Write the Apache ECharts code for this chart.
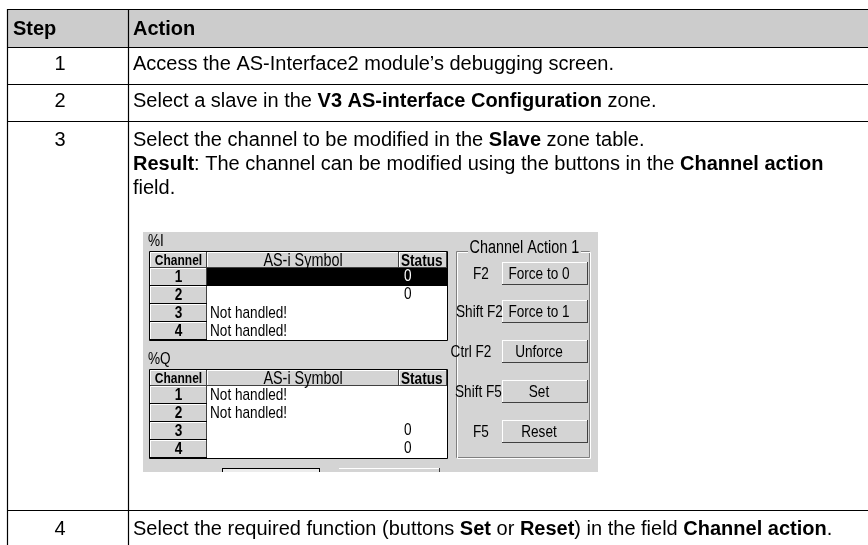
<!DOCTYPE html>
<html><head><meta charset="utf-8">
<script src="https://cdn.jsdelivr.net/npm/echarts@6/dist/echarts.min.js"></script>
<style>html,body{margin:0;padding:0;background:#fff}#c{width:868px;height:545px}</style>
</head><body><div id="c"></div>
<script>
// ---- data ----
const headers = ['Step', 'Action'];
const steps = ['1', '2', '3', '4'];
const actionLines = [
  ['Access the AS-Interface2 module\u2019s debugging screen.'],
  ['Select a slave in the {b|V3 AS-interface Configuration} zone.'],
  ['Select the channel to be modified in the {b|Slave} zone table.',
   '{b|Result}: The channel can be modified using the buttons in the {b|Channel action}',
   'field.'],
  ['Select the required function (buttons {b|Set} or {b|Reset}) in the field {b|Channel action}.']
];
const zoneLabels = ['%I', '%Q'];
const columnTitles = ['Channel', 'AS-i Symbol', 'Status'];
const inputChannels = ['1', '2', '3', '4'];
const inputSymbols = ['', '', 'Not handled!', 'Not handled!'];
const inputStatus = ['0', '0', '', ''];
const outputChannels = ['1', '2', '3', '4'];
const outputSymbols = ['Not handled!', 'Not handled!', '', ''];
const outputStatus = ['', '', '0', '0'];
const panelTitle = 'Channel Action 1';
const actionKeys = ['F2', 'Shift F2', 'Ctrl F2', 'Shift F5', 'F5'];
const actionButtons = ['Force to 0', 'Force to 1', 'Unforce', 'Set', 'Reset'];

// ---- drawing ----
const MAIN = '"Liberation Sans", Arial, sans-serif';
const GRAY = '#d4d4d4';
const els = [];
function R(x, y, w, h, fill, stroke, lw) {
  els.push({type: 'rect', shape: {x, y, width: w, height: h},
    style: {fill: fill || 'none', stroke: stroke || null, lineWidth: lw || 1}, silent: true});
}
function L(x1, y1, x2, y2, c, lw) {
  els.push({type: 'line', shape: {x1, y1, x2, y2}, style: {stroke: c || '#000', lineWidth: lw || 1}, silent: true});
}
function T(x, y, text, opt, sx) {
  els.push({type: 'text', x, y, scaleX: sx || 1, silent: true,
    style: Object.assign({text, fill: '#000', fontSize: 20, fontFamily: MAIN, align: 'left', verticalAlign: 'middle'}, opt || {})});
}
// narrow text: Liberation Sans compressed horizontally (Arial Narrow look)
function N(x, y, text, size, bold, extra) {
  T(x, y, text, Object.assign({fontSize: size, fontWeight: bold ? 'bold' : 'normal'}, extra || {}), 0.8);
}
function raised(x, y, w, h) {
  R(x, y, w, h, GRAY);
  L(x, y + 0.5, x + w, y + 0.5, '#fff');
  L(x + 0.5, y, x + 0.5, y + h, '#fff');
  L(x, y + h - 0.5, x + w, y + h - 0.5, '#404040');
  L(x + w - 0.5, y, x + w - 0.5, y + h, '#404040');
}

// main table
R(7, 9, 861, 38, '#cccccc');
[9, 47, 84, 121, 510].forEach(y => L(7, y + 0.5, 868, y + 0.5, '#000', 1.2));
L(7.5, 9, 7.5, 545, '#000', 1.2);
L(128.5, 9, 128.5, 545, '#000', 1.2);
T(13, 29, headers[0], {fontWeight: 'bold'});
T(133, 29, headers[1], {fontWeight: 'bold'});
const rich = {b: {fontWeight: 'bold', fontSize: 20, fontFamily: MAIN, fill: '#000'}};
const rowY = [[64], [101], [140, 164, 188], [529]];
steps.forEach((s, i) => {
  T(60, rowY[i][0], s, {align: 'center'});
  actionLines[i].forEach((ln, j) => T(133, rowY[i][j], ln, {rich}));
});

// embedded screenshot
R(143, 232, 455, 240, GRAY);
function table(top, label, chans, syms, stats, hl) {
  const x0 = 150, x1 = 207, x2 = 399, x3 = 447, hh = 16, rh = 18;
  N(148, top - 11, label, 17);
  R(x1, top + hh, x3 - x1, rh * 4, '#fff');
  raised(x0, top, x1 - x0, hh);
  raised(x1, top, x2 - x1, hh);
  raised(x2, top, x3 - x2, hh);
  N((x0 + x1) / 2, top + hh / 2 + 1, columnTitles[0], 15, true, {align: 'center'});
  N((x1 + x2) / 2, top + hh / 2 + 1, columnTitles[1], 18, false, {align: 'center'});
  N(x2 + 2, top + hh / 2 + 1, columnTitles[2], 17, true);
  chans.forEach((c, i) => {
    const y = top + hh + i * rh;
    raised(x0, y, x1 - x0, rh);
    L(x0, y + rh - 0.5, x1, y + rh - 0.5, '#000');
    if (i === hl) R(x1, y, x3 - x1, rh, '#000');
    N((x0 + x1) / 2, y + rh / 2, c, 17, true, {align: 'center'});
    if (syms[i]) N(x1 + 3, y + rh / 2, syms[i], 17);
    if (stats[i]) N(x2 + 5, y + rh / 2 - 1, stats[i], 17, false, {fill: i === hl ? '#fff' : '#000'});
  });
  R(x0 - 0.5, top - 0.5, x3 - x0 + 1, hh + rh * 4 + 1, null, '#000');
}
table(252, zoneLabels[0], inputChannels, inputSymbols, inputStatus, 0);
table(370, zoneLabels[1], outputChannels, outputSymbols, outputStatus, -1);

// channel action frame
R(456.5, 251.5, 133, 206, null, '#808080');
R(457.5, 252.5, 133, 206, null, '#ffffff');
N(468, 248, panelTitle, 18, false, {backgroundColor: GRAY, padding: [0, 2]});
const btnTop = [262, 300, 340, 380, 420];
const keyX = [[481, 'center'], [456, 'left'], [471, 'center'], [455, 'left'], [481, 'center']];
actionButtons.forEach((b, i) => {
  raised(502, btnTop[i], 86, 23);
  N(539, btnTop[i] + 12, b, 17, false, {align: 'center'});
  N(keyX[i][0], btnTop[i] + 12, actionKeys[i], 17, false, {align: keyX[i][1]});
});
// partially visible controls at the bottom
R(222, 468, 98, 4, '#ececec');
L(222, 468.5, 320, 468.5, '#000');
L(222.5, 468, 222.5, 472, '#000');
L(319.5, 468, 319.5, 472, '#000');
R(339, 468, 101, 4, GRAY);
L(339, 468.5, 440, 468.5, '#fff');
L(439.5, 468, 439.5, 472, '#404040');

const chart = echarts.init(document.getElementById('c'), null, {renderer: 'canvas'});
chart.setOption({animation: false, graphic: {elements: els}});
</script></body></html>
